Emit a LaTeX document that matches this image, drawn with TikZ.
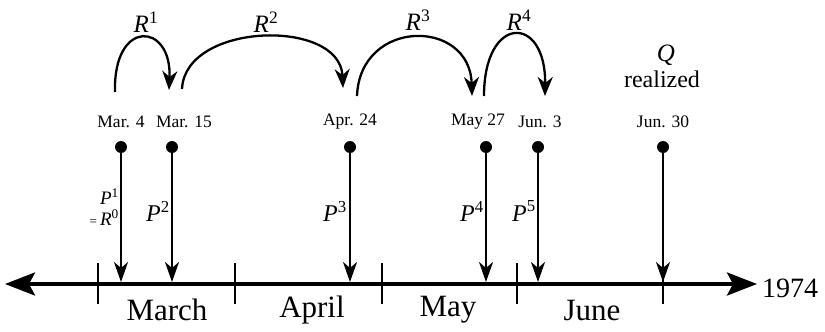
\documentclass[tikz,border=0pt]{standalone}
\usepackage{fontspec}
\setmainfont{Liberation Serif}
\usetikzlibrary{arrows.meta}
\begin{document}
\begin{tikzpicture}[x=1pt,y=-1pt,
  axisline/.style={line width=3.6pt,
    {Stealth[length=30pt,width=23pt,inset=6pt]}-{Stealth[length=30pt,width=23pt,inset=6pt]}},
  monthtick/.style={line width=2.6pt},
  drop/.style={line width=1.9pt, -{Stealth[length=20pt,width=14pt,inset=6pt]}},
  hop/.style={line width=2.3pt, -{Stealth[length=19pt,width=15pt,inset=6pt]}},
  dot/.style={circle, fill=black, inner sep=0pt, minimum size=12pt},
  datelbl/.style={font=\fontsize{17.5}{18}\selectfont, inner sep=0pt},
  rlbl/.style={font=\fontsize{25}{25}\selectfont, inner sep=0pt},
  plbl/.style={font=\fontsize{24}{24}\selectfont, inner sep=0pt},
  monthlbl/.style={font=\fontsize{31}{31}\selectfont, inner sep=0pt},
]
\useasboundingbox (0,0) rectangle (825,332);

% time axis
\coordinate (axL) at (5,284);
\coordinate (axR) at (757,284);
\draw[axisline] (axL) -- (axR);
\node[anchor=west, font=\fontsize{28}{28}\selectfont, inner sep=0pt] (yr) at (762,288) {1974};

% month boundaries
\foreach \x [count=\i] in {98,235,382,517,663} {
  \coordinate (t\i) at (\x,284);
  \draw[monthtick] (t\i) ++(0,-21) -- ++(0,41);
}

% month names
\node[monthlbl] (march) at (167,310) {March};
\node[monthlbl] (april) at (312,310) {April};
\node[monthlbl] (may)   at (448,310) {May};
\node[monthlbl] (june)  at (592,310) {June};

% dated events: dot and arrow down to the axis
\foreach \x [count=\i] in {121,172,350,486,538,663} {
  \coordinate (a\i) at (\x,282);
  \node[dot] (d\i) at (\x,147) {};
  \draw[drop] (d\i) -- (a\i);
}
\node[datelbl] (dt1) at (121,122) {Mar. 4};
\node[datelbl] (dt2) at (184,122) {Mar. 15};
\node[datelbl] (dt3) at (350,122) {Apr. 24};
\node[datelbl] (dt4) at (478,122) {May 27};
\node[datelbl] (dt5) at (540,122) {Jun. 3};
\node[datelbl] (dt6) at (663,122) {Jun. 30};

% P labels beside the arrows
\node[inner sep=0pt, align=right, anchor=east, font=\fontsize{19}{21}\selectfont] (p1) at (119,207)
  {\textit{P}\textsuperscript{1}\\{\fontsize{13}{13}\selectfont =}\,\textit{R}\textsuperscript{0}};
\node[plbl] (p2) at (158,211) {\textit{P}\textsuperscript{2}};
\node[plbl] (p3) at (335,211) {\textit{P}\textsuperscript{3}};
\node[plbl] (p4) at (472,211) {\textit{P}\textsuperscript{4}};
\node[plbl] (p5) at (524,211) {\textit{P}\textsuperscript{5}};

% revision hops between dates
\coordinate (s1) at (115,92);  \coordinate (e1) at (169,90);
\coordinate (s2) at (182,89);  \coordinate (e2) at (343,88);
\coordinate (s3) at (357,96);  \coordinate (e3) at (472,96);
\coordinate (s4) at (484,96);  \coordinate (e4) at (545,96);
\draw[hop] (s1) .. controls (113,18) and (172,22) .. (e1);
\draw[hop] (s2) .. controls (185,22) and (340,18) .. (e2);
\draw[hop] (s3) .. controls (360,18) and (470,18) .. (e3);
\draw[hop] (s4) .. controls (484,14) and (546,14) .. (e4);

\node[rlbl] (r1) at (146,22) {\textit{R}\textsuperscript{1}};
\node[rlbl] (r2) at (266,22) {\textit{R}\textsuperscript{2}};
\node[rlbl] (r3) at (418,20) {\textit{R}\textsuperscript{3}};
\node[rlbl] (r4) at (519,20) {\textit{R}\textsuperscript{4}};

% final realization
\node[rlbl] (q) at (666,55) {\textit{Q}};
\node[font=\fontsize{24}{24}\selectfont, inner sep=0pt] (real) at (662,79) {realized};
\end{tikzpicture}
\end{document}
